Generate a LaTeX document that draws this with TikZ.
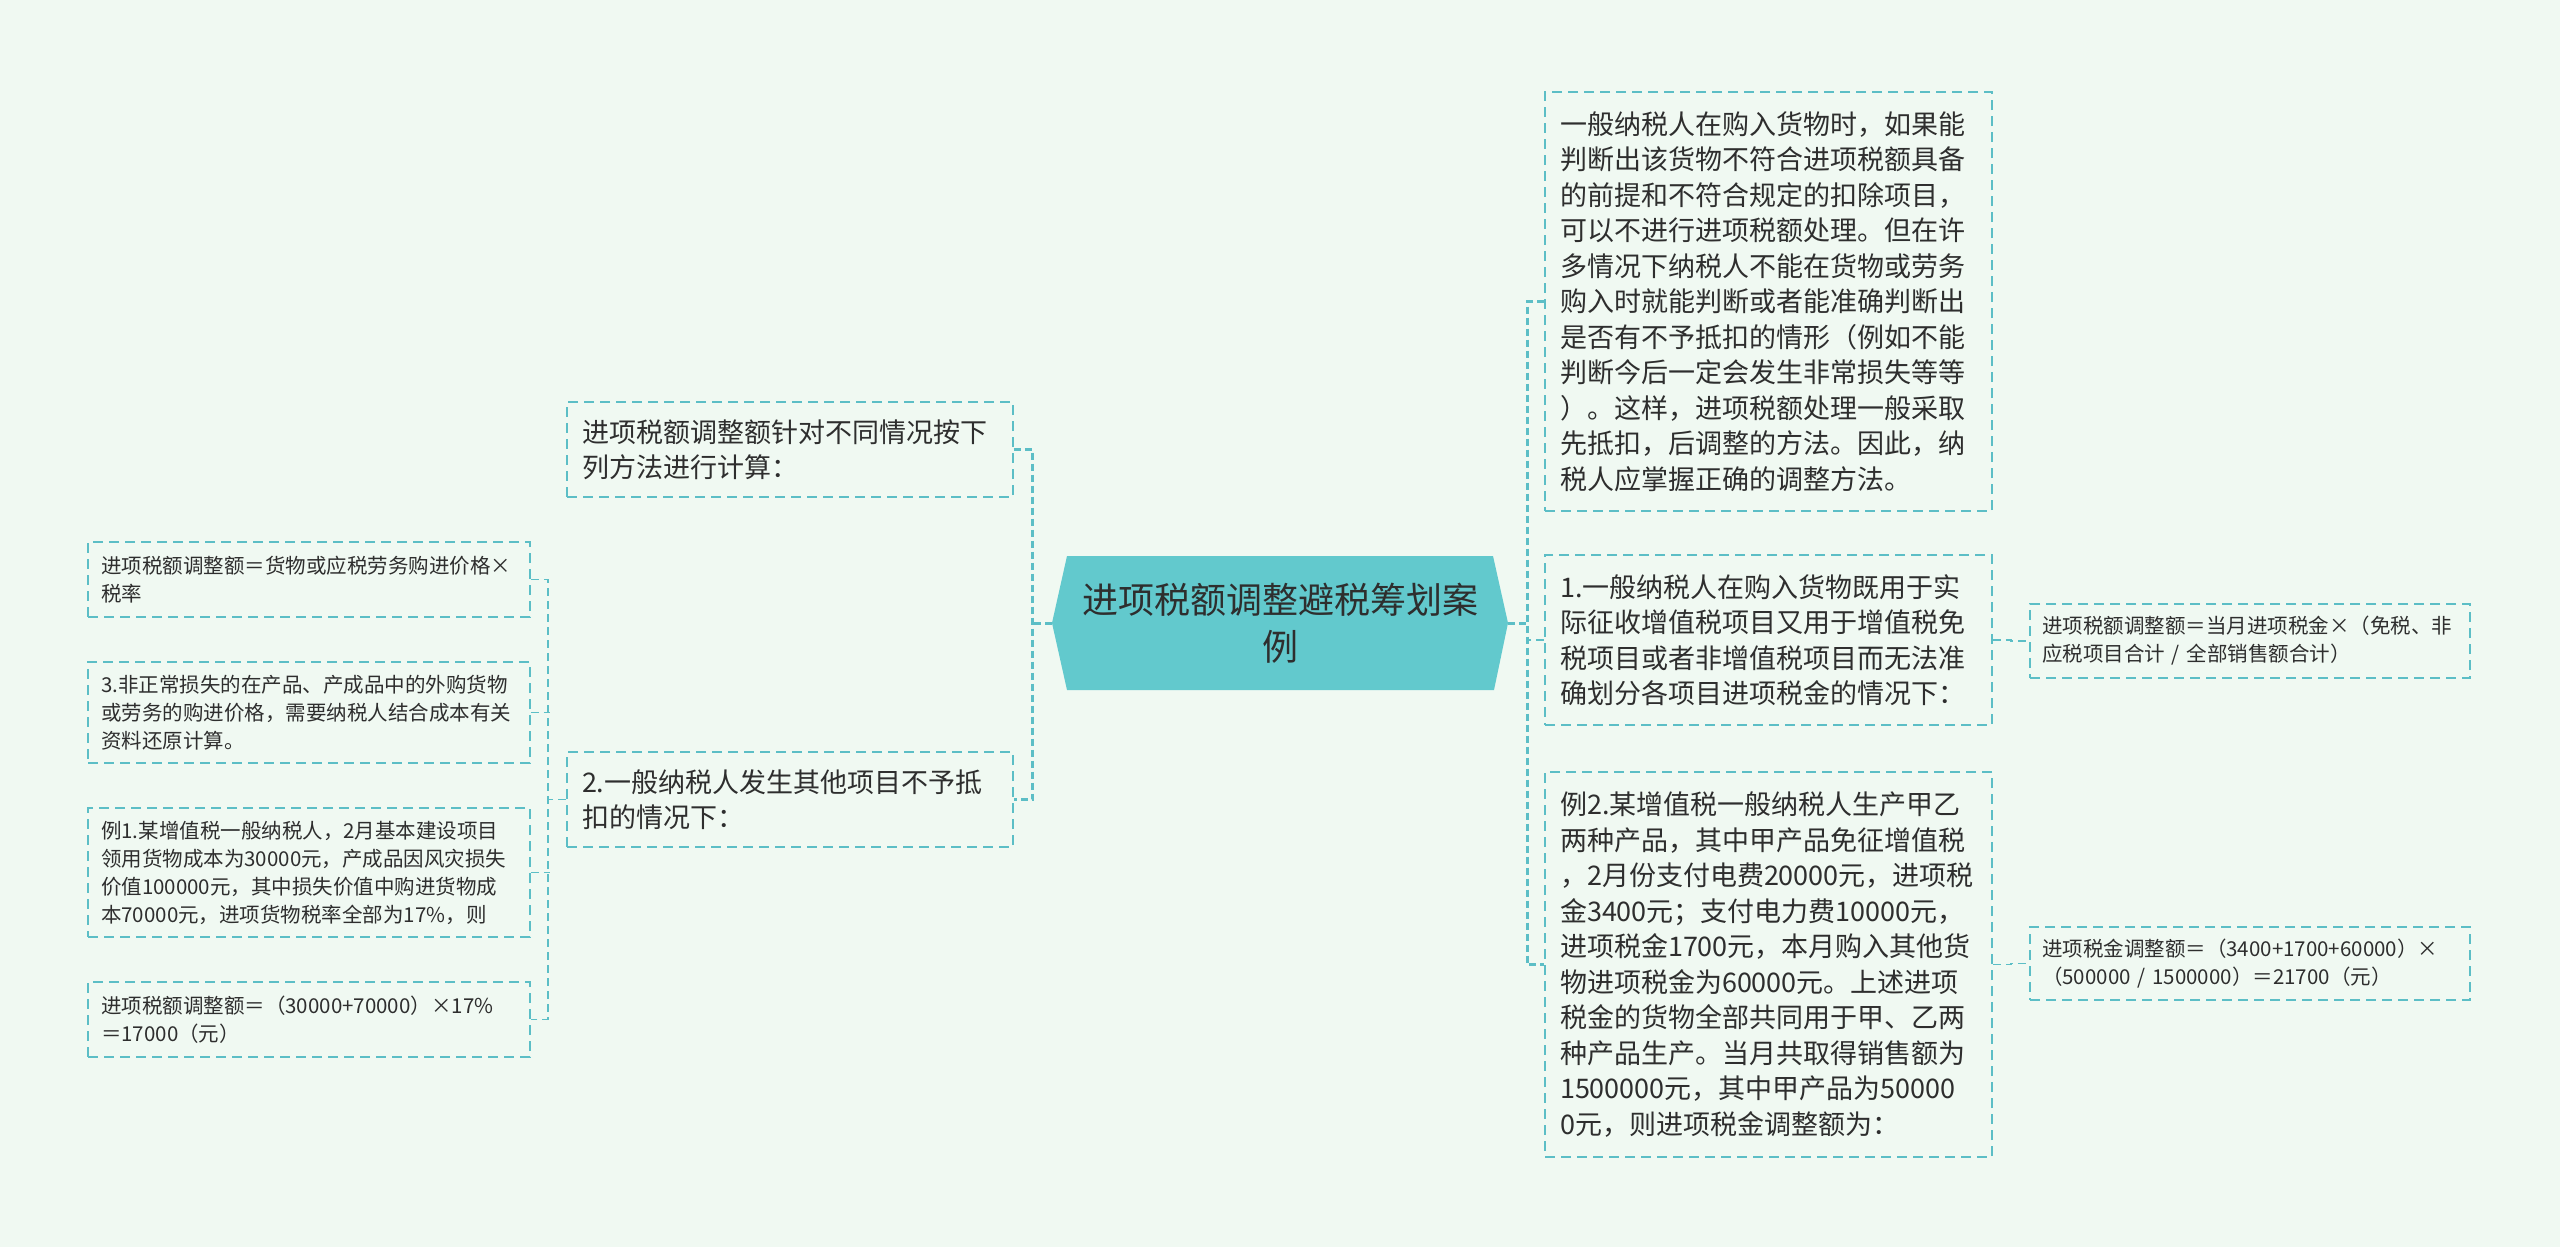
\documentclass[tikz,border=0pt]{standalone}
\usepackage{fontspec}
\setmainfont{Noto Sans CJK SC}
\definecolor{bgmint}{HTML}{F0F9F2}
\definecolor{tealline}{HTML}{5CBEC6}
\definecolor{tealfill}{HTML}{62C9CD}
\definecolor{inkgray}{HTML}{2E2E2E}
\begin{document}
\begin{tikzpicture}[x=1pt,y=-1pt,
  bigbox/.style={draw=tealline,line width=1.8pt,dash pattern=on 10pt off 6pt,text=inkgray,align=left,
    text width=417pt,inner xsep=15pt,inner ysep=0pt,font=\fontsize{27}{35.5}\selectfont},
  smallbox/.style={draw=tealline,line width=1.8pt,dash pattern=on 10pt off 6pt,text=inkgray,align=left,
    text width=416pt,inner xsep=13pt,inner ysep=0pt,font=\fontsize{20.5}{28}\selectfont},
  trunk/.style={draw=tealline,line width=3pt,dash pattern=on 7pt off 4pt},
  link/.style={draw=tealline,line width=1.8pt,dash pattern=on 8pt off 5pt}]
\useasboundingbox (0,0) rectangle (2560,1247);
\fill[bgmint] (0,0) rectangle (2560,1247);
\fill[tealfill] (1052,623) -- (1067,556) -- (1493,556) -- (1508,623) -- (1494,690) -- (1067,690) -- cycle;
\node[text=inkgray,align=center,text width=420pt,inner xsep=18pt,inner ysep=0pt,minimum height=134pt,
  font=\fontsize{36}{47}\selectfont] (root) at (1280,623) {进项税额调整避税筹划案\\例};
\node[bigbox,minimum height=419pt] (R1) at (1768.5,301.5) {一般纳税人在购入货物时，如果能\\判断出该货物不符合进项税额具备\\的前提和不符合规定的扣除项目，\\可以不进行进项税额处理。但在许\\多情况下纳税人不能在货物或劳务\\购入时就能判断或者能准确判断出\\是否有不予抵扣的情形（例如不能\\判断今后一定会发生非常损失等等\\）。这样，进项税额处理一般采取\\先抵扣，后调整的方法。因此，纳\\税人应掌握正确的调整方法。};
\node[bigbox,minimum height=170pt] (R2) at (1768.5,640) {1.一般纳税人在购入货物既用于实\\际征收增值税项目又用于增值税免\\税项目或者非增值税项目而无法准\\确划分各项目进项税金的情况下：};
\node[bigbox,minimum height=385pt] (R3) at (1768.5,964.5) {例2.某增值税一般纳税人生产甲乙\\两种产品，其中甲产品免征增值税\\，2月份支付电费20000元，进项税\\金3400元；支付电力费10000元，\\进项税金1700元，本月购入其他货\\物进项税金为60000元。上述进项\\税金的货物全部共同用于甲、乙两\\种产品生产。当月共取得销售额为\\1500000元，其中甲产品为50000\\0元，则进项税金调整额为：};
\node[smallbox,inner xsep=12pt,minimum height=74pt] (RR1) at (2250,641) {进项税额调整额＝当月进项税金×（免税、非\\应税项目合计 / 全部销售额合计）};
\node[smallbox,inner xsep=12pt,minimum height=73pt] (RR2) at (2250,963.5) {进项税金调整额＝（3400+1700+60000）×\\（500000 / 1500000）＝21700（元）};
\node[bigbox,text width=416pt,minimum height=95pt] (L1) at (790,449.5) {进项税额调整额针对不同情况按下\\列方法进行计算：};
\node[bigbox,text width=416pt,minimum height=95pt] (L2) at (790,799.5) {2.一般纳税人发生其他项目不予抵\\扣的情况下：};
\node[smallbox,minimum height=75pt] (S1) at (309,579.5) {进项税额调整额＝货物或应税劳务购进价格×\\税率};
\node[smallbox,minimum height=101pt] (S2) at (309,712.5) {3.非正常损失的在产品、产成品中的外购货物\\或劳务的购进价格，需要纳税人结合成本有关\\资料还原计算。};
\node[smallbox,minimum height=129pt] (S3) at (309,872.5) {例1.某增值税一般纳税人，2月基本建设项目\\领用货物成本为30000元，产成品因风灾损失\\价值100000元，其中损失价值中购进货物成\\本70000元，进项货物税率全部为17\%，则};
\node[smallbox,minimum height=75pt] (S4) at (309,1019.5) {进项税额调整额＝（30000+70000）×17\%\\＝17000（元）};
\draw[trunk] (L1.east) -| ([xshift=-19pt]root.west) |- (L2.east);
\draw[trunk] (root.west) -- ++(-19,0);
\draw[trunk] (R1.west) -| ([xshift=19pt]root.east) |- (R3.west);
\draw[trunk] (root.east) -- ++(19,0);
\draw[link] (R2.west) -- ++(-18,0);
\draw[link] (S1.east) -| ([xshift=-18pt]L2.west) |- (S4.east);
\foreach \s in {S2,S3} \draw[link] (\s.east) -- ++(19,0);
\draw[link] (L2.west) -- ++(-18,0);
\draw[link] (R2.east) -- ++(18,0) |- (RR1.west);
\draw[link] (R3.east) -- ++(18,0) |- (RR2.west);
\end{tikzpicture}
\end{document}
